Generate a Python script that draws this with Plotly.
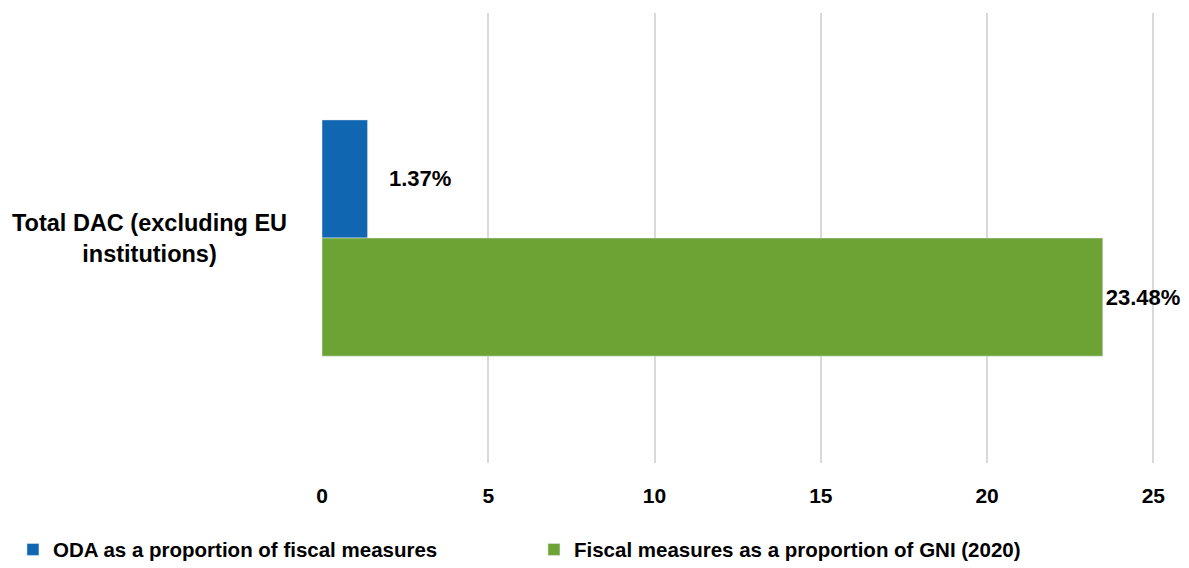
import plotly.graph_objects as go

categories = ["Total DAC (excluding EU<br>institutions)"]
series_names = ["ODA as a proportion of fiscal measures",
                "Fiscal measures as a proportion of GNI (2020)"]
oda_share = [1.37]
fiscal_share = [23.48]
x_ticks = [0, 5, 10, 15, 20, 25]

FONT = "Liberation Sans, Arial, sans-serif"
BLUE = "#1166B2"
GREEN = "#6DA235"


def bold(size):
    return dict(size=size, color="black", family=FONT, weight="bold")


fig = go.Figure()
fig.add_trace(go.Bar(
    y=categories, x=oda_share, orientation="h", name=series_names[0],
    marker_color=BLUE,
    text=[f"{v:.2f}%" for v in oda_share], textposition="outside",
    texttemplate="   %{text}", cliponaxis=False,
    textfont=bold(22),
))
fig.add_trace(go.Bar(
    y=categories, x=fiscal_share, orientation="h", name=series_names[1],
    marker_color=GREEN,
    text=[f"{v:.2f}%" for v in fiscal_share], textposition="outside",
    cliponaxis=False,
    textfont=bold(22),
))

# category label, centred over two lines
fig.add_annotation(
    xref="paper", yref="y", x=-0.04, y=categories[0], xanchor="right",
    text=categories[0], showarrow=False, align="center",
    font=bold(23.5),
)

fig.update_layout(
    width=1189, height=568,
    margin=dict(l=322, r=34, t=13, b=105, autoexpand=False),
    paper_bgcolor="white", plot_bgcolor="white",
    barmode="group", bargap=0.475, bargroupgap=0,
    font=bold(20.5),
    xaxis=dict(
        range=[0, 25.05], tickvals=x_ticks, showgrid=True,
        gridcolor="#D9D9D9", gridwidth=2, zeroline=False,
        showline=False, ticklabelstandoff=18,
        tickfont=bold(21),
    ),
    yaxis=dict(autorange="reversed", showticklabels=False, showgrid=False,
               zeroline=False, showline=False),
    legend=dict(
        orientation="h", xref="paper", yref="paper",
        x=-0.371, y=-0.148, xanchor="left", yanchor="top",
        entrywidth=476, font=bold(20.5),
        itemwidth=30,
    ),
)

fig.write_html("out.html")
